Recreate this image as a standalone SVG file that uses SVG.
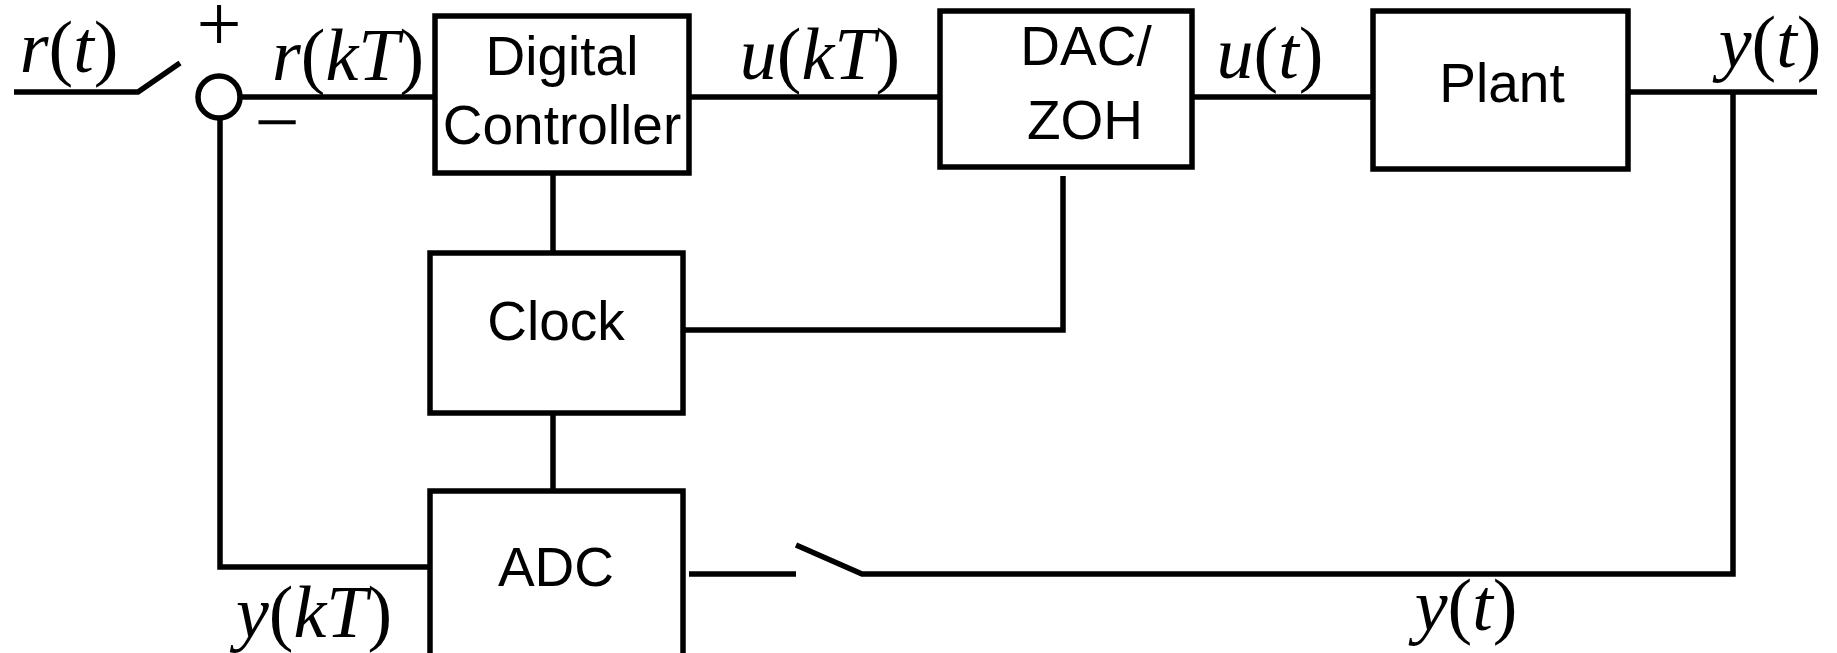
<svg xmlns="http://www.w3.org/2000/svg" width="1837" height="653" viewBox="0 0 1837 653">
<style>
.box{fill:#fff;stroke:#000;stroke-width:5.5}
.w{fill:none;stroke:#000;stroke-width:5.5;stroke-linecap:butt;stroke-linejoin:miter}
.lbl{font-family:"Liberation Sans",Arial,sans-serif;font-size:55px;fill:#000;text-anchor:middle}
.m{font-family:"Liberation Serif","Times New Roman",serif;font-size:74px;font-style:italic;fill:#000;text-anchor:middle}
.m tspan.u{font-style:normal}
.sg{font-family:"Liberation Serif","Times New Roman",serif;font-size:80px;fill:#000;text-anchor:middle}
</style>
<rect width="1837" height="653" fill="#fff"/>
<g id="connectors">
<path class="w" d="M14 92 L138 92 L180 63"/>
<path class="w" d="M240 97 L435 97"/>
<path class="w" d="M689 97 L940 97"/>
<path class="w" d="M1192 97 L1373 97"/>
<path class="w" d="M1628 92 L1817 92"/>
<path class="w" d="M1733 92 L1733 574 L862 574 L796 545"/>
<path class="w" d="M689 574 L796 574"/>
<path class="w" d="M553 173 L553 253"/>
<path class="w" d="M553 413 L553 491"/>
<path class="w" d="M683 330 L1063 330 L1063 176"/>
<path class="w" d="M220 120 L220 567 L430 567"/>
</g>
<g id="sum">
<circle cx="219" cy="97" r="21" class="w"/>
<text class="sg" x="219" y="51">+</text>
<text class="sg" x="277" y="149">−</text>
</g>
<g id="digital-controller">
<rect class="box" x="435" y="16" width="254" height="157"/>
<text class="lbl" x="562" y="75">Digital</text>
<text class="lbl" x="562" y="144">Controller</text>
</g>
<g id="dac-zoh">
<rect class="box" x="940" y="11" width="252" height="156"/>
<text class="lbl" x="1086" y="65">DAC/</text>
<text class="lbl" x="1085" y="139">ZOH</text>
</g>
<g id="plant">
<rect class="box" x="1373" y="11" width="255" height="158"/>
<text class="lbl" x="1502" y="102">Plant</text>
</g>
<g id="clock">
<rect class="box" x="430" y="253" width="253" height="160"/>
<text class="lbl" x="556" y="340">Clock</text>
</g>
<g id="adc">
<rect class="box" x="430" y="491" width="253" height="170"/>
<text class="lbl" x="556" y="586">ADC</text>
</g>
<g id="labels">
<text class="m" x="69" y="72">r<tspan class="u">(</tspan>t<tspan class="u">)</tspan></text>
<text class="m" x="348" y="80">r<tspan class="u">(</tspan>kT<tspan class="u">)</tspan></text>
<text class="m" x="820" y="79">u<tspan class="u">(</tspan>kT<tspan class="u">)</tspan></text>
<text class="m" x="1270" y="78">u<tspan class="u">(</tspan>t<tspan class="u">)</tspan></text>
<text class="m" x="1770" y="67">y<tspan class="u">(</tspan>t<tspan class="u">)</tspan></text>
<text class="m" x="314" y="637">y<tspan class="u">(</tspan>kT<tspan class="u">)</tspan></text>
<text class="m" x="1466" y="630">y<tspan class="u">(</tspan>t<tspan class="u">)</tspan></text>
</g>
</svg>
